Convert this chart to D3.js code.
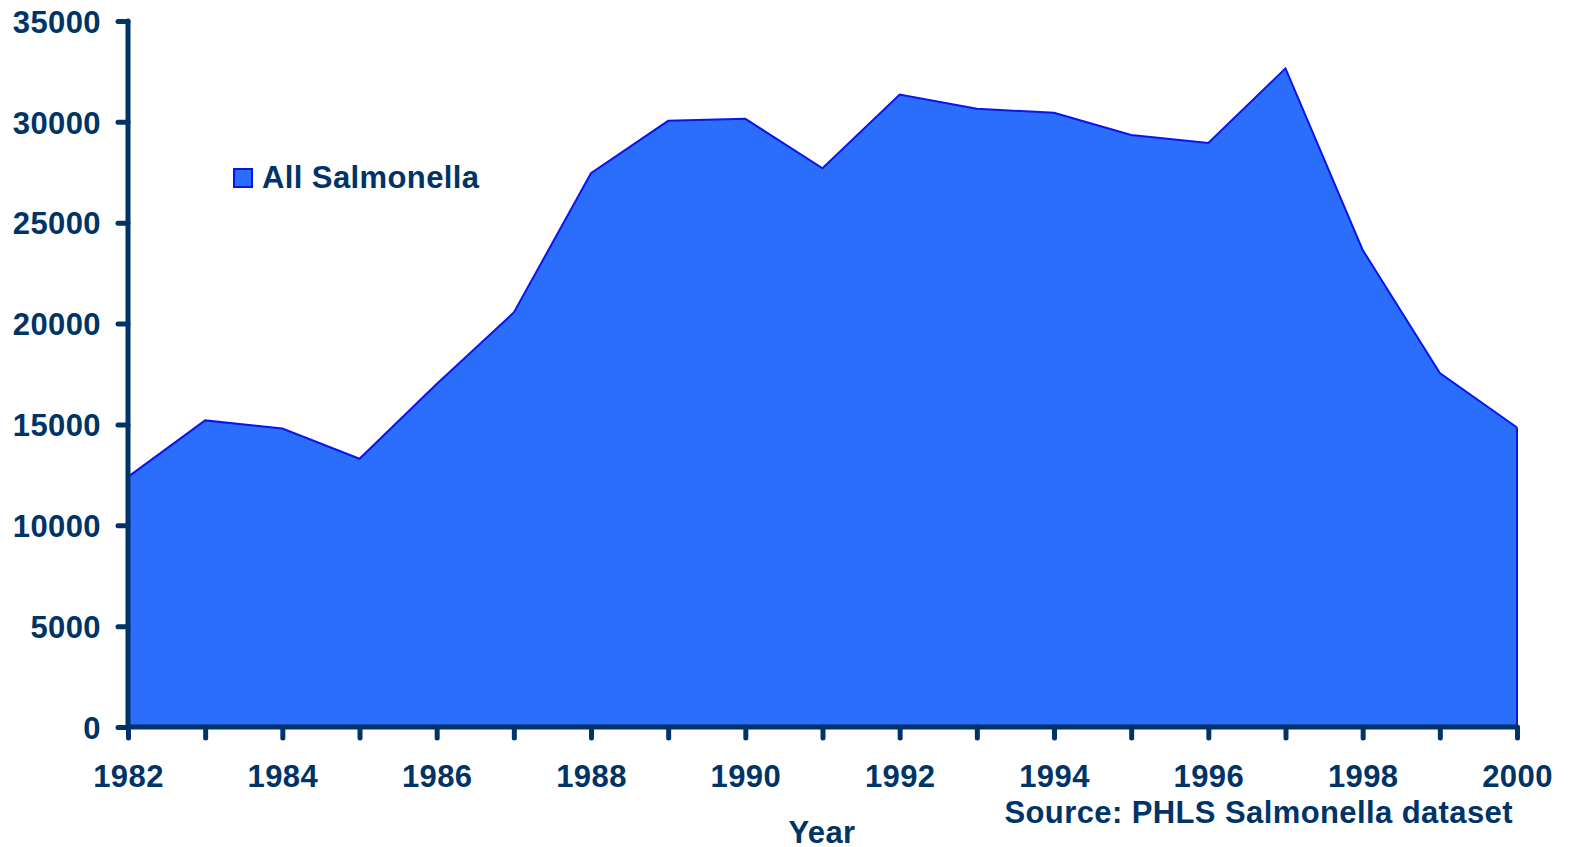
<!DOCTYPE html>
<html>
<head>
<meta charset="utf-8">
<script src="https://cdn.jsdelivr.net/npm/d3@7"></script>
<style>
html,body{margin:0;padding:0;background:#fff;}
svg{display:block;}
text{font-family:"Liberation Sans",Arial,sans-serif;font-weight:bold;fill:#003366;letter-spacing:0.4px;}
</style>
</head>
<body>
<svg id="chart" width="1570" height="847"></svg>
<script>
const years = [1982,1983,1984,1985,1986,1987,1988,1989,1990,1991,1992,1993,1994,1995,1996,1997,1998,1999,2000];
const cases = [12400,15200,14800,13300,17000,20550,27450,30050,30150,27700,31350,30650,30450,29350,28950,32650,23650,17550,14850];
const yTicks = [0,5000,10000,15000,20000,25000,30000,35000];
const xLabelYears = [1982,1984,1986,1988,1990,1992,1994,1996,1998,2000];
const seriesName = "All Salmonella";

const svg = d3.select("#chart");
const x = d3.scaleLinear().domain([1982,2000]).range([128,1517]);
const y = d3.scaleLinear().domain([0,35000]).range([727,21]);
const navy = "#003366";
const fs = 31;

const area = d3.area().x((d,i)=>x(years[i])).y0(y(0)).y1(d=>y(d));
svg.append("path").datum(cases).attr("d",area)
  .attr("fill","#2B6EFB").attr("stroke","none");
const line = d3.line().x((d,i)=>x(years[i])).y(d=>y(d));
svg.append("path").datum(cases).attr("d",line)
  .attr("fill","none").attr("stroke","#0A14F0").attr("stroke-width",2);
svg.append("line").attr("x1",x(2000)).attr("x2",x(2000))
  .attr("y1",y(cases[cases.length-1])).attr("y2",y(0))
  .attr("stroke","#0A14F0").attr("stroke-width",2);

// Y axis
const yAxis = svg.append("g").attr("transform",`translate(${x(1982)},0)`)
  .call(d3.axisLeft(y).tickValues(yTicks).tickSize(10).tickPadding(17).tickFormat(d3.format("d")));
yAxis.select(".domain").attr("stroke",navy).attr("stroke-width",5).attr("d",`M0,${y(35000)}V${y(0)}`).attr("stroke-linecap","round");
yAxis.selectAll(".tick line").attr("stroke",navy).attr("stroke-width",5).attr("stroke-linecap","round");
yAxis.selectAll(".tick text").attr("font-size",fs).attr("fill",navy).attr("dy","0.36em")
  .style("font-family","Liberation Sans, Arial, sans-serif").style("font-weight","bold");

// X axis
const xAxis = svg.append("g").attr("transform",`translate(0,${y(0)})`)
  .call(d3.axisBottom(x).tickValues(years).tickSize(11).tickFormat(d=>xLabelYears.includes(d)?String(d):""));
xAxis.select(".domain").attr("stroke",navy).attr("stroke-width",5).attr("d",`M${x(1982)},0H${x(2000)}`);
xAxis.selectAll(".tick line").attr("stroke",navy).attr("stroke-width",5).attr("stroke-linecap","round");
xAxis.selectAll(".tick text").attr("font-size",fs).attr("fill",navy).attr("y",60).attr("dy",0)
  .style("font-family","Liberation Sans, Arial, sans-serif").style("font-weight","bold");

// titles
svg.append("text").attr("x",822).attr("y",843).attr("text-anchor","middle").attr("font-size",fs).text("Year");
svg.append("text").attr("x",1513).attr("y",823).attr("text-anchor","end").attr("font-size",fs).text("Source: PHLS Salmonella dataset");

// Legend
svg.append("rect").attr("x",234).attr("y",169).attr("width",18).attr("height",18)
  .attr("fill","#2B6EFB").attr("stroke","#0A14F0").attr("stroke-width",2);
svg.append("text").attr("x",262).attr("y",188).attr("font-size",fs).text(seriesName);
</script>
</body>
</html>
